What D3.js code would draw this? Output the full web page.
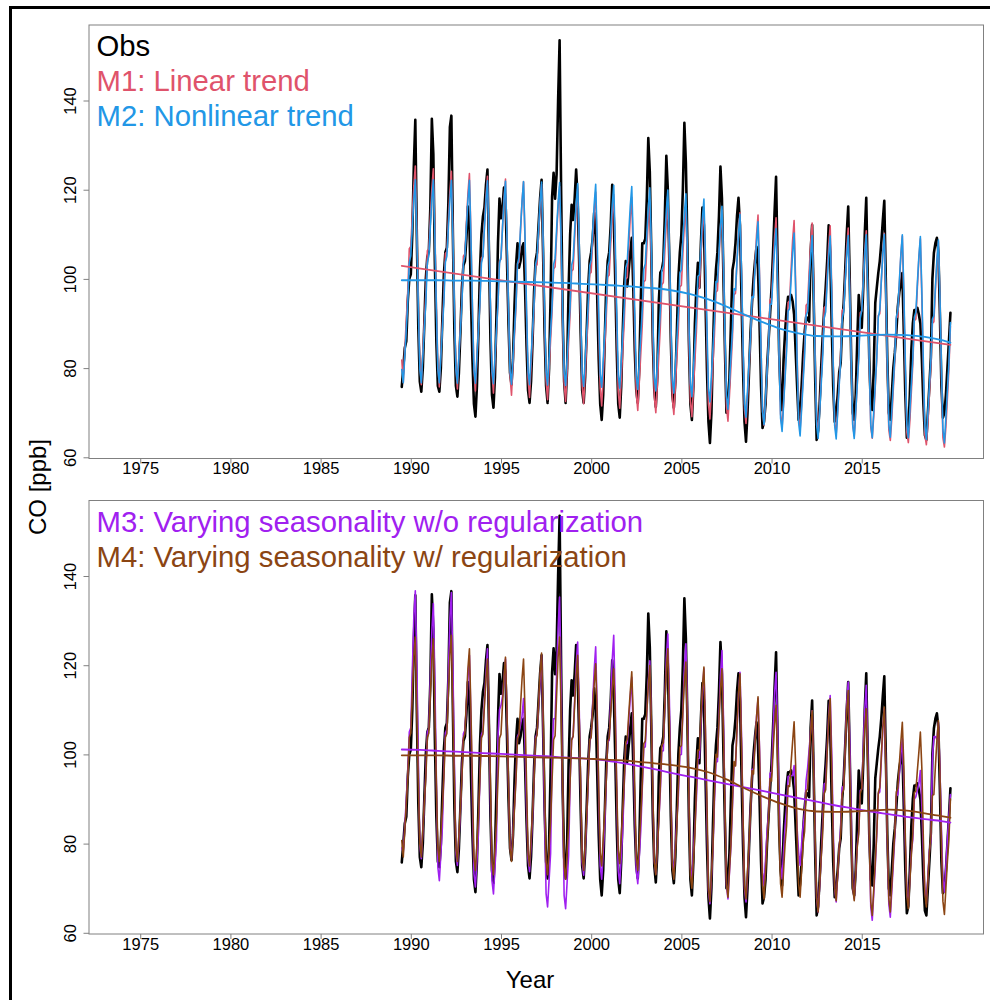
<!DOCTYPE html>
<html>
<head>
<meta charset="utf-8">
<script src="https://cdn.jsdelivr.net/npm/d3@7"></script>
<style>
  html, body { margin: 0; padding: 0; background: #fff; }
  svg { display: block; }
  text { font-family: "Liberation Sans", Arial, Helvetica, sans-serif; }
</style>
</head>
<body>
<svg id="chart" width="990" height="1000"></svg>
<script>
// ---- Monthly CO series, one row per year (Jan..Dec), null = no data ----
const years = [1989, 1990, 1991, 1992, 1993, 1994, 1995, 1996, 1997, 1998, 1999,
  2000, 2001, 2002, 2003, 2004, 2005, 2006, 2007, 2008, 2009,
  2010, 2011, 2012, 2013, 2014, 2015, 2016, 2017, 2018, 2019];

const obsRows = [
  [null, null, null, null, null, null, 75.8, 80, 84.5, 86, 95, 100],
  [101, 110, 125, 135.7, 110, 89, 77, 74.7, 80, 90, 100, 105],
  [106, 116, 135.9, 128, 104, 86, 76, 74.7, 80, 91, 101, 106],
  [107, 117, 134, 136.6, 110, 88, 76, 73.6, 79, 88, 98, 103],
  [104, 109, 116.2, 112, 96, 82, 72, 69.1, 76, 88, 102, 110],
  [114, 116, 121, 124.5, 106, 86, 74, 71.1, 78, 92, 108, 118],
  [113.6, 116, 120.5, 118, 104, 90, 79, 76.3, 82, 94, 103, 108],
  [102.5, 104, 107, 108, 98, 85, 75, 72.2, 77, 86, 97, 104],
  [106, 112, 118, 122.2, 106, 88, 76, 72.2, 80, 96, 118.4, 123.8],
  [118, 123.5, 140, 153.5, 120, 92, 77, 72.2, 80, 98, 110, 116.6],
  [113.2, 118, 124.5, 118, 104, 88, 75, 72.2, 78, 88, 98, 104],
  [106, 109, 114.8, 110, 96, 82, 72, 68.4, 74, 86, 98, 104],
  [106, 112, 121.1, 114, 100, 84, 72, 68.9, 76, 88, 99, 104],
  [98.3, 102, 106, 109.2, 98, 84, 75, 72.2, 80, 95, 108, 108],
  [109, 118, 131.6, 124, 106, 86, 75, 71.3, 78, 95, 101.4, 102],
  [104, 114, 127.6, 120, 104, 86, 74, 71.1, 77, 88, 100, 106],
  [110, 120, 135, 126, 108, 86, 72, 68.4, 76, 90, 98, 103.6],
  [98, 108, 116, 112, 96, 80, 68, 63.2, 70, 84, 96, 102],
  [106, 114, 125.2, 118, 100, 84, 70, 72, 78, 90, 102, 104],
  [108, 114, 118.2, 112, 96, 80, 68, 63.5, 70, 79, 88, 94.6],
  [100, 104, 107.2, 102, 90, 76, 66.6, 68, 72, 80, 86, 92],
  [98, 106, 115, 122.9, 104, 84, 74, 70.6, 81.9, 88, 93, 96],
  [96, 96.4, 95, 92, 84, 76, 68.4, 71, 76, 83, 88, 91.5],
  [91, 90.4, 106, 112.1, 96, 78, 63.9, 66, 72, 80, 87, 93],
  [98, 104, 112, 106, 90, 76, 68, 70, 74, 79, 81.2, 90],
  [94.6, 102, 110, 116.2, 100, 82, 70, 68.4, 74, 86, 96.4, 92],
  [89, 98, 110, 118.2, 100, 82, 72, 70.6, 80, 94.6, 98, 101.3],
  [104, 108, 113, 117.5, 100, 82, 70, 68.4, 74, 80, 83.4, 88],
  [93.7, 97, 99, 101.3, 88, 74, 64.4, 66, 74, 84, 90, 93],
  [93, 93.5, 92, 90, 82, 72, 65, 63.9, 70, 76, 82.5, 100],
  [105.8, 108, 109.2, 106, 92, 76, 68.9, 70, 74, 80, 86, 92.4]
];

// M1: linear trend + fixed seasonal cycle
const m1Rows = [
  [null, null, null, null, null, null, 81.8, 76.8, 84.3, 90.8, 97.3, 106.8],
  [107.3, 114.3, 120.8, 125.3, 111.8, 95.3, 81.3, 76.3, 83.8, 90.3, 96.8, 106.3],
  [106.7, 113.7, 120.2, 124.7, 111.2, 94.7, 80.7, 75.8, 83.2, 89.7, 96.2, 105.7],
  [106.1, 113.1, 119.6, 124.1, 110.6, 94.1, 80.1, 75.3, 82.6, 89.1, 95.6, 105.1],
  [105.6, 112.6, 119.1, 123.6, 110.1, 93.6, 79.6, 74.9, 82.1, 88.6, 95.1, 104.6],
  [105, 112, 118.5, 123, 109.5, 93, 79, 74.4, 81.5, 88, 94.5, 104],
  [104.4, 111.4, 117.9, 122.4, 108.9, 92.4, 78.4, 73.9, 80.9, 87.4, 93.9, 103.4],
  [103.8, 110.8, 117.3, 121.8, 108.3, 91.8, 77.8, 73.4, 80.3, 86.8, 93.3, 102.8],
  [103.2, 110.2, 116.7, 121.2, 107.7, 91.2, 77.2, 72.9, 79.7, 86.2, 92.7, 102.2],
  [102.7, 109.7, 116.2, 120.7, 107.2, 90.7, 76.7, 72.5, 79.2, 85.7, 92.2, 101.7],
  [102.1, 109.1, 115.6, 120.1, 106.6, 90.1, 76.1, 72, 78.6, 85.1, 91.6, 101.1],
  [101.5, 108.5, 115, 119.5, 106, 89.5, 75.5, 71.5, 78, 84.5, 91, 100.5],
  [100.9, 107.9, 114.4, 118.9, 105.4, 88.9, 74.9, 71, 77.4, 83.9, 90.4, 99.9],
  [100.3, 107.3, 113.8, 118.3, 104.8, 88.3, 74.3, 70.5, 76.8, 83.3, 89.8, 99.3],
  [99.7, 106.7, 113.2, 117.7, 104.2, 87.7, 73.7, 70, 76.2, 82.7, 89.2, 98.7],
  [99.2, 106.2, 112.7, 117.2, 103.7, 87.2, 73.2, 69.6, 75.7, 82.2, 88.7, 98.2],
  [98.6, 105.6, 112.1, 116.6, 103.1, 86.6, 72.6, 69.1, 75.1, 81.6, 88.1, 97.6],
  [98, 105, 111.5, 116, 102.5, 86, 72, 68.6, 74.5, 81, 87.5, 97],
  [97.4, 104.4, 110.9, 115.4, 101.9, 85.4, 71.4, 68.1, 73.9, 80.4, 86.9, 96.4],
  [96.8, 103.8, 110.3, 114.8, 101.3, 84.8, 70.8, 67.6, 73.3, 79.8, 86.3, 95.8],
  [96.3, 103.3, 109.8, 114.3, 100.8, 84.3, 70.3, 67.2, 72.8, 79.3, 85.8, 95.3],
  [95.7, 102.7, 109.2, 113.7, 100.2, 83.7, 69.7, 66.7, 72.2, 78.7, 85.2, 94.7],
  [95.1, 102.1, 108.6, 113.1, 99.6, 83.1, 69.1, 66.2, 71.6, 78.1, 84.6, 94.1],
  [94.5, 101.5, 108, 112.5, 99, 82.5, 68.5, 65.7, 71, 77.5, 84, 93.5],
  [93.9, 100.9, 107.4, 111.9, 98.4, 81.9, 67.9, 65.2, 70.4, 76.9, 83.4, 92.9],
  [93.4, 100.4, 106.9, 111.4, 97.9, 81.4, 67.4, 64.8, 69.9, 76.4, 82.9, 92.4],
  [92.8, 99.8, 106.3, 110.8, 97.3, 80.8, 66.8, 64.3, 69.3, 75.8, 82.3, 91.8],
  [92.2, 99.2, 105.7, 110.2, 96.7, 80.2, 66.2, 63.8, 68.7, 75.2, 81.7, 91.2],
  [91.6, 98.6, 105.1, 109.6, 96.1, 79.6, 65.6, 63.3, 68.1, 74.6, 81.1, 90.6],
  [91, 98, 104.5, 109, 95.5, 79, 65, 62.8, 67.5, 74, 80.5, 90],
  [90.4, 97.4, 103.9, 108.4, 94.9, 78.4, 64.4, 62.3, 66.9, 73.4, 79.9, 89.4]
];

// M2: nonlinear trend + fixed seasonal cycle
const m2Rows = [
  [null, null, null, null, null, null, 79.7, 76.7, 82.7, 88.7, 94.7, 103.7],
  [105.2, 111.7, 117.7, 122.2, 109.7, 93.7, 79.7, 76.7, 82.7, 88.7, 94.7, 103.7],
  [105.2, 111.7, 117.7, 122.2, 109.7, 93.7, 79.7, 76.7, 82.7, 88.7, 94.7, 103.7],
  [105.1, 111.6, 117.6, 122.1, 109.6, 93.6, 79.6, 76.6, 82.6, 88.6, 94.6, 103.6],
  [105.1, 111.6, 117.6, 122.1, 109.6, 93.6, 79.6, 76.6, 82.6, 88.6, 94.6, 103.6],
  [105, 111.5, 117.5, 122, 109.5, 93.5, 79.5, 76.5, 82.5, 88.5, 94.5, 103.5],
  [104.9, 111.4, 117.4, 121.9, 109.4, 93.4, 79.4, 76.4, 82.4, 88.4, 94.4, 103.4],
  [104.8, 111.3, 117.3, 121.8, 109.3, 93.3, 79.3, 76.3, 82.3, 88.3, 94.3, 103.3],
  [104.7, 111.2, 117.2, 121.7, 109.2, 93.2, 79.2, 76.2, 82.2, 88.2, 94.2, 103.2],
  [104.6, 111.1, 117.1, 121.6, 109.1, 93.1, 79.1, 76.1, 82.1, 88.1, 94.1, 103.1],
  [104.4, 110.9, 116.9, 121.4, 108.9, 92.9, 78.9, 75.9, 81.9, 87.9, 93.9, 102.9],
  [104.2, 110.7, 116.7, 121.2, 108.7, 92.7, 78.7, 75.7, 81.7, 87.7, 93.7, 102.7],
  [104, 110.5, 116.5, 121, 108.5, 92.5, 78.5, 75.5, 81.5, 87.5, 93.5, 102.5],
  [103.7, 110.2, 116.2, 120.7, 108.2, 92.2, 78.2, 75.2, 81.2, 87.2, 93.2, 102.2],
  [103.4, 109.9, 115.9, 120.4, 107.9, 91.9, 77.9, 74.9, 80.9, 86.9, 92.9, 101.9],
  [102.9, 109.4, 115.4, 119.9, 107.4, 91.4, 77.4, 74.4, 80.4, 86.4, 92.4, 101.4],
  [102.1, 108.6, 114.6, 119.1, 106.6, 90.6, 76.6, 73.6, 79.6, 85.6, 91.6, 100.6],
  [100.9, 107.4, 113.4, 117.9, 105.4, 89.4, 75.4, 72.4, 78.4, 84.4, 90.4, 99.4],
  [99.3, 105.8, 111.8, 116.3, 103.8, 87.8, 73.8, 70.8, 76.8, 82.8, 88.8, 97.8],
  [97.5, 104, 110, 114.5, 102, 86, 72, 69, 75, 81, 87, 96],
  [95.8, 102.3, 108.3, 112.8, 100.3, 84.3, 70.3, 67.3, 73.3, 79.3, 85.3, 94.3],
  [94.3, 100.8, 106.8, 111.3, 98.8, 82.8, 68.8, 65.8, 71.8, 77.8, 83.8, 92.8],
  [93.3, 99.8, 105.8, 110.3, 97.8, 81.8, 67.8, 64.8, 70.8, 76.8, 82.8, 91.8],
  [92.7, 99.2, 105.2, 109.7, 97.2, 81.2, 67.2, 64.2, 70.2, 76.2, 82.2, 91.2],
  [92.6, 99.1, 105.1, 109.6, 97.1, 81.1, 67.1, 64.1, 70.1, 76.1, 82.1, 91.1],
  [92.7, 99.2, 105.2, 109.7, 97.2, 81.2, 67.2, 64.2, 70.2, 76.2, 82.2, 91.2],
  [92.9, 99.4, 105.4, 109.9, 97.4, 81.4, 67.4, 64.4, 70.4, 76.4, 82.4, 91.4],
  [93, 99.5, 105.5, 110, 97.5, 81.5, 67.5, 64.5, 70.5, 76.5, 82.5, 91.5],
  [92.9, 99.4, 105.4, 109.9, 97.4, 81.4, 67.4, 64.4, 70.4, 76.4, 82.4, 91.4],
  [92.5, 99, 105, 109.5, 97, 81, 67, 64, 70, 76, 82, 91],
  [91.7, 98.2, 104.2, 108.7, 96.2, 80.2, 66.2, 63.2, 69.2, 75.2, 81.2, 90.2]
];

// M3: varying seasonality, no regularization
const m3Rows = [
  [null, null, null, null, null, null, 79, 78, 84, 90, 96, 105],
  [106, 118.4, 130.7, 136.7, 120.5, 98.8, 79.6, 76.6, 82.6, 88.6, 96, 105],
  [105.8, 116.7, 127.6, 133.8, 117, 94.7, 74.7, 71.7, 77.7, 83.7, 95.8, 104.8],
  [105.6, 117.9, 130.2, 136.3, 119.8, 97.7, 78.1, 75.1, 81.1, 87.1, 95.6, 104.6],
  [105.4, 111.2, 117, 122.2, 108.2, 89.5, 73.3, 70.3, 76.3, 82.3, 95.4, 104.4],
  [105.2, 111.7, 118.2, 123.7, 108.9, 89, 71.7, 68.7, 74.7, 80.7, 104, 110],
  [111, 113, 116.9, 121.4, 109.3, 93.2, 79.6, 76.6, 82.6, 88.6, 95, 104],
  [104.8, 106.7, 108.6, 112.5, 102, 88.1, 76.7, 73.7, 79.7, 85.7, 94.8, 103.8],
  [104.6, 110.6, 116.6, 122.2, 107, 86.7, 68.8, 65.8, 71.8, 77.8, 100, 108],
  [108, 118, 128.3, 135.3, 116.4, 91.3, 68.4, 65.4, 71.4, 77.4, 94.3, 103.3],
  [104.1, 112, 120, 125.2, 111.1, 92.3, 75.9, 72.9, 78.9, 84.9, 94.1, 103.1],
  [103.8, 111.4, 118.9, 124.1, 110, 91.3, 75, 72, 78, 84, 93.8, 102.8],
  [103.2, 112.2, 121.1, 126.7, 111.7, 91.6, 74, 71, 77, 83, 93.2, 102.2],
  [102.5, 107.6, 112.7, 117.3, 104.8, 88.1, 74, 71, 77, 83, 92.5, 101.5],
  [101.7, 109, 116.2, 121, 108.1, 90.9, 76.2, 73.2, 79.2, 85.2, 91.7, 100.7],
  [100.8, 111.2, 121.6, 127, 112.5, 93.1, 76.2, 73.2, 79.2, 85.2, 90.8, 99.8],
  [100, 109.8, 119.5, 124.8, 110.5, 91.3, 74.7, 71.7, 77.7, 83.7, 90, 99],
  [99.2, 106.6, 113.9, 119.2, 105, 86, 69.5, 66.5, 72.5, 78.5, 89.2, 98.2],
  [98.4, 108, 117.7, 123.3, 108.3, 88.2, 70.6, 67.6, 73.6, 79.6, 88.4, 97.4],
  [97.6, 105.4, 113.3, 118.4, 104.5, 86, 69.9, 66.9, 72.9, 78.9, 87.6, 96.6],
  [96.8, 102.6, 108.3, 112.5, 101.2, 86.1, 73.6, 70.6, 76.6, 82.6, 86.8, 95.8],
  [96, 104.9, 113.8, 118.4, 105.9, 89.2, 75.1, 72.1, 78.1, 84.1, 88, 95],
  [95.2, 95.2, 95.3, 97.5, 91.5, 83.4, 78.1, 75.1, 80, 84, 87, 94.2],
  [97, 101, 105.3, 109.8, 97.6, 81.4, 67.7, 64.7, 70.7, 76.7, 84.4, 93.4],
  [93.6, 101.1, 108.6, 113.2, 100.7, 84, 69.9, 66.9, 72.9, 78.9, 83.6, 92.6],
  [92.9, 102.1, 111.3, 116.2, 103.1, 85.6, 70.6, 67.6, 73.6, 79.6, 82.9, 91.9],
  [92.2, 101.2, 110.2, 115.5, 101.3, 82.3, 65.8, 62.8, 68.8, 74.8, 82.2, 91.2],
  [91.6, 98.6, 105.5, 110.2, 97.6, 80.8, 66.5, 63.5, 69.5, 75.5, 81.6, 90.6],
  [91, 95.4, 99.8, 103.5, 93.4, 79.9, 69.1, 66.1, 72.1, 78.1, 81, 90],
  [90.5, 92, 93.4, 96.4, 88.3, 77.6, 69.5, 66.5, 72.5, 78.5, 80.5, 99],
  [104, 104, 103.4, 107.2, 96.9, 83.2, 72.1, 69.1, 75.1, 81.1, 86, 91]
];

// M4: varying seasonality with regularization
const m4Rows = [
  [null, null, null, null, null, null, 80.7, 77, 83, 89, 94.8, 103.8],
  [104.8, 113.6, 121.8, 126.3, 109.8, 93.8, 80, 77, 83, 89, 94.8, 103.8],
  [104.8, 113.4, 121.4, 125.9, 109.8, 93.8, 79, 76, 82, 88, 94.8, 103.8],
  [104.7, 113.7, 122.2, 126.7, 109.7, 93.7, 79, 76, 82, 88, 94.7, 103.7],
  [104.7, 112.2, 119.2, 123.7, 109.7, 93.7, 77, 74, 80, 86, 94.7, 103.7],
  [104.6, 111, 116.9, 121.4, 109.6, 93.6, 76, 73, 79, 85, 94.6, 103.6],
  [104.5, 111.2, 117.3, 121.8, 109.5, 93.5, 79, 76, 82, 88, 94.5, 103.5],
  [104.4, 110.9, 116.9, 121.4, 109.4, 93.4, 78, 75, 81, 87, 94.4, 103.4],
  [104.3, 111.5, 118.2, 122.7, 109.3, 93.3, 76, 73, 79, 85, 94.3, 103.3],
  [104.2, 113.3, 121.8, 126.3, 109.2, 93.2, 75, 72, 78, 84, 94.2, 103.2],
  [104.1, 111.2, 117.7, 122.2, 109.1, 93.1, 77, 74, 80, 86, 94.1, 103.1],
  [103.9, 110.1, 115.8, 120.3, 108.9, 92.9, 78, 75, 81, 87, 93.9, 102.9],
  [103.7, 109.5, 114.7, 119.2, 108.7, 92.7, 78.5, 75.5, 81.5, 87.5, 93.7, 102.7],
  [103.4, 109, 114, 118.5, 108.4, 92.4, 77, 74, 80, 86, 93.4, 102.4],
  [103, 109.5, 115.4, 119.9, 108, 92, 76, 73, 79, 85, 93, 102],
  [102.6, 111.2, 119.2, 123.7, 107.6, 91.6, 75, 72, 78, 84, 92.6, 101.6],
  [102, 109.4, 116.2, 120.7, 107, 91, 73, 70, 76, 82, 92, 101],
  [101, 108.3, 115.1, 119.6, 106, 90, 70, 67, 73, 79, 91, 100],
  [99.4, 107.3, 114.7, 119.2, 104.4, 88.4, 71, 68, 74, 80, 89.4, 98.4],
  [97.4, 105.8, 113.6, 118.1, 102.4, 86.4, 70.6, 67.6, 73.6, 79.6, 87.4, 96.4],
  [95.6, 102.3, 108.4, 112.9, 100.6, 84.6, 70.6, 67.6, 73.6, 79.6, 85.6, 94.6],
  [94, 100.5, 106.5, 111, 99, 83, 71, 68, 74, 80, 84, 93],
  [92.8, 98.1, 102.8, 107.3, 97.8, 81.8, 71, 68, 74, 80, 82.8, 91.8],
  [92.2, 99, 105.3, 109.8, 97.2, 81.2, 67.7, 64.7, 70.7, 76.7, 82.2, 91.2],
  [92.1, 100.3, 108, 112.5, 97.1, 81.1, 70.2, 67.2, 73.2, 79.2, 82.1, 91.1],
  [92.2, 101.3, 109.8, 114.3, 97.2, 81.2, 70.2, 67.2, 73.2, 79.2, 82.2, 91.2],
  [92.4, 99.3, 105.7, 110.2, 97.4, 81.4, 66.9, 63.9, 69.9, 75.9, 82.4, 91.4],
  [92.6, 99.6, 106.1, 110.6, 97.6, 81.6, 67.7, 64.7, 70.7, 76.7, 82.6, 91.6],
  [92.4, 97.8, 102.7, 107.2, 97.4, 81.4, 68.4, 65.4, 71.4, 77.4, 82.4, 91.4],
  [91.8, 96.4, 100.5, 105, 96.8, 80.8, 68.8, 65.8, 71.8, 77.8, 81.8, 90.8],
  [91, 97.3, 103.1, 107.6, 96, 80, 67.1, 64.1, 70.1, 76.1, 81, 90]
];

// ---- Trend components ----
const m1TrendTimes = [1989.5, 2019.917];
const m1Trend = [102.9, 85.2];

const trendTimes = [1989.5, 1990.5, 1991.5, 1992.5, 1993.5, 1994.5, 1995.5, 1996.5,
  1997.5, 1998.5, 1999.5, 2000.5, 2001.5, 2002.5, 2003.5, 2004.5, 2005.5, 2006.5,
  2007.5, 2008.5, 2009.5, 2010.5, 2011.5, 2012.5, 2013.5, 2014.5, 2015.5, 2016.5,
  2017.5, 2018.5, 2019.5, 2019.917];
const m2Trend = [99.7, 99.7, 99.7, 99.6, 99.6, 99.5, 99.4, 99.3, 99.2, 99.1, 98.9,
  98.7, 98.5, 98.2, 97.9, 97.4, 96.6, 95.4, 93.8, 92.0, 90.3, 88.8, 87.8, 87.2,
  87.1, 87.2, 87.4, 87.5, 87.4, 87.0, 86.2, 85.7];
const m3Trend = [101.1, 101.0, 100.8, 100.6, 100.4, 100.2, 100.0, 99.8, 99.6, 99.3,
  99.1, 98.8, 98.2, 97.5, 96.7, 95.8, 95.0, 94.2, 93.4, 92.6, 91.8, 91.0, 90.2,
  89.4, 88.6, 87.9, 87.2, 86.6, 86.0, 85.5, 85.0, 84.7];
const m4Trend = [99.8, 99.8, 99.8, 99.7, 99.7, 99.6, 99.5, 99.4, 99.3, 99.2, 99.1,
  98.9, 98.7, 98.4, 98.0, 97.6, 97.0, 96.0, 94.4, 92.4, 90.6, 89.0, 87.8, 87.2,
  87.1, 87.2, 87.4, 87.6, 87.4, 86.8, 86.1, 85.8];

// ---- Axes ----
const xDomain = [1972.16, 2021.75];
const yDomain = [59.73, 156.93];
const xTicks = [1975, 1980, 1985, 1990, 1995, 2000, 2005, 2010, 2015];
const yTicks = [60, 80, 100, 120, 140];

const colors = {
  obs: "#000000",
  m1: "#DF536B",
  m2: "#2297E6",
  m3: "#A020F0",
  m4: "#8B4513"
};

// ---- Helpers ----
function monthlyPoints(rows) {
  const pts = [];
  years.forEach((yr, i) => {
    rows[i].forEach((v, m) => {
      if (v !== null) pts.push({ t: yr + m / 12, v: v });
    });
  });
  return pts;
}
function pairPoints(times, values) {
  return times.map((t, i) => ({ t: t, v: values[i] }));
}

const svg = d3.select("#chart");
const plotLeft = 89, plotRight = 983.5;
const x = d3.scaleLinear().domain(xDomain).range([plotLeft, plotRight]);

// outer frame edge (top and left)
svg.append("path")
  .attr("d", "M10.5,1000V7.5H990")
  .attr("fill", "none")
  .attr("stroke", "#000")
  .attr("stroke-width", 3);

const panels = [
  {
    id: "p1", top: 25, bottom: 458.5,
    series: [
      { pts: monthlyPoints(obsRows), color: colors.obs, width: 2.6 },
      { pts: monthlyPoints(m1Rows), color: colors.m1, width: 1.6 },
      { pts: monthlyPoints(m2Rows), color: colors.m2, width: 1.6 },
      { pts: pairPoints(m1TrendTimes, m1Trend), color: colors.m1, width: 1.8, smooth: false },
      { pts: pairPoints(trendTimes, m2Trend), color: colors.m2, width: 1.8, smooth: true }
    ],
    legend: [
      { text: "Obs", color: colors.obs },
      { text: "M1: Linear trend", color: colors.m1 },
      { text: "M2: Nonlinear trend", color: colors.m2 }
    ]
  },
  {
    id: "p2", top: 500.5, bottom: 934,
    series: [
      { pts: monthlyPoints(obsRows), color: colors.obs, width: 2.6 },
      { pts: monthlyPoints(m3Rows), color: colors.m3, width: 1.6 },
      { pts: monthlyPoints(m4Rows), color: colors.m4, width: 1.6 },
      { pts: pairPoints(trendTimes, m3Trend), color: colors.m3, width: 1.8, smooth: true },
      { pts: pairPoints(trendTimes, m4Trend), color: colors.m4, width: 1.8, smooth: true }
    ],
    legend: [
      { text: "M3: Varying seasonality w/o regularization", color: colors.m3 },
      { text: "M4: Varying seasonality w/ regularization", color: colors.m4 }
    ]
  }
];

panels.forEach(p => {
  const y = d3.scaleLinear().domain(yDomain).range([p.bottom, p.top]);
  const g = svg.append("g").attr("class", "panel-" + p.id);

  g.append("clipPath").attr("id", "clip-" + p.id)
    .append("rect")
    .attr("x", plotLeft).attr("y", p.top)
    .attr("width", plotRight - plotLeft).attr("height", p.bottom - p.top);

  const lines = g.append("g").attr("clip-path", "url(#clip-" + p.id + ")");
  p.series.forEach(s => {
    const line = d3.line()
      .x(d => x(d.t))
      .y(d => y(d.v))
      .curve(s.smooth ? d3.curveMonotoneX : d3.curveLinear);
    lines.append("path")
      .datum(s.pts)
      .attr("d", line)
      .attr("fill", "none")
      .attr("stroke", s.color)
      .attr("stroke-width", s.width)
      .attr("stroke-linejoin", "round")
      .attr("stroke-linecap", "round");
  });

  // box
  g.append("rect")
    .attr("x", plotLeft).attr("y", p.top)
    .attr("width", plotRight - plotLeft).attr("height", p.bottom - p.top)
    .attr("fill", "none").attr("stroke", "#808080").attr("stroke-width", 1);

  // x axis
  const xAxis = g.append("g")
    .attr("transform", "translate(0," + p.bottom + ")")
    .call(d3.axisBottom(x).tickValues(xTicks).tickFormat(d3.format("d")).tickSize(5));
  xAxis.select(".domain").remove();
  xAxis.selectAll(".tick line").attr("stroke", "#808080");
  xAxis.selectAll(".tick text")
    .attr("y", 15.5).attr("dy", 0)
    .attr("fill", "#000")
    .style("font-size", "16.5px")
    .style("font-family", "'Liberation Sans', Arial, sans-serif");

  // y axis
  const yAxis = g.append("g")
    .attr("transform", "translate(" + plotLeft + ",0)")
    .call(d3.axisLeft(y).tickValues(yTicks).tickSize(5.5));
  yAxis.select(".domain").remove();
  yAxis.selectAll(".tick line").attr("stroke", "#808080");
  yAxis.selectAll(".tick text")
    .attr("transform", "rotate(-90)")
    .attr("x", 0).attr("y", -13.5).attr("dy", 0)
    .attr("text-anchor", "middle")
    .attr("fill", "#000")
    .style("font-size", "16.5px")
    .style("font-family", "'Liberation Sans', Arial, sans-serif");

  // legend
  p.legend.forEach((item, i) => {
    g.append("text")
      .attr("x", 96.5)
      .attr("y", p.top + 31 + i * 35)
      .attr("fill", item.color)
      .style("font-size", "29.3px")
      .text(item.text);
  });
});

// axis titles
svg.append("text")
  .attr("x", 530).attr("y", 988)
  .attr("text-anchor", "middle")
  .style("font-size", "24px")
  .attr("fill", "#000")
  .text("Year");

svg.append("text")
  .attr("transform", "translate(46,487) rotate(-90)")
  .attr("text-anchor", "middle")
  .style("font-size", "24px")
  .attr("fill", "#000")
  .text("CO [ppb]");
</script>
</body>
</html>
